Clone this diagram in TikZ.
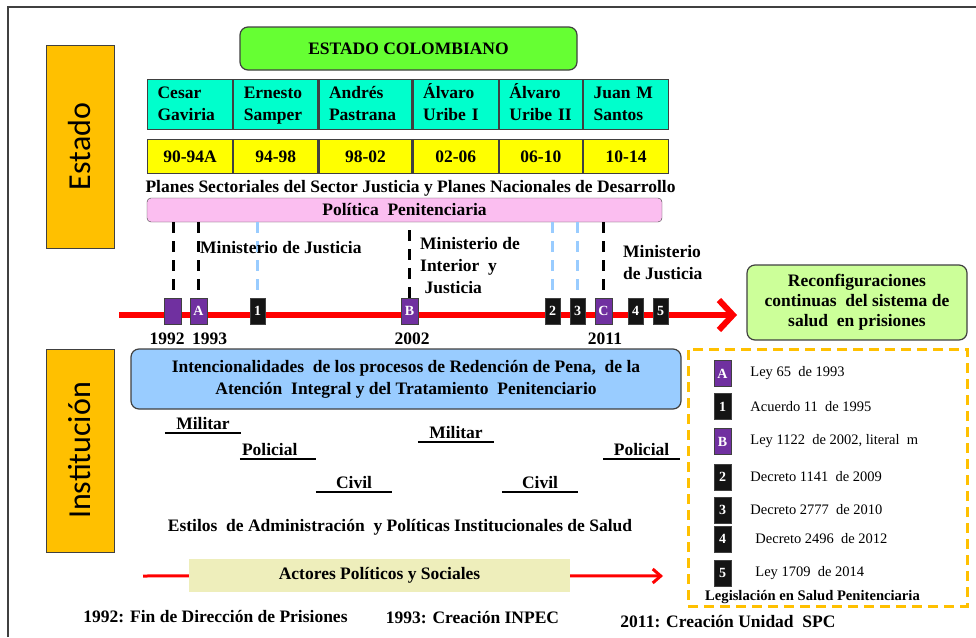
\documentclass[tikz,border=0pt]{standalone}
\usepackage{fontspec}
\setmainfont{Liberation Serif}
\newfontfamily\calibri{Carlito}
\usetikzlibrary{positioning, arrows.meta}

\definecolor{verdeestado}{HTML}{66FF33}
\definecolor{turquesa}{HTML}{00FFCC}
\definecolor{amarillo}{HTML}{FFFF00}
\definecolor{rosa}{HTML}{FBBEF0}
\definecolor{morado}{HTML}{7030A0}
\definecolor{naranja}{HTML}{FFC000}
\definecolor{celeste}{HTML}{99CCFF}
\definecolor{verdeclaro}{HTML}{CCFF99}
\definecolor{arena}{HTML}{EEEEBB}
\definecolor{borde}{HTML}{404040}

\tikzset{
  negrita/.style={font=\bfseries\fontsize{17.5}{22}\selectfont},
  lateral/.style={draw=borde, fill=naranja, rotate=90, minimum width=203pt,
    minimum height=68pt, font=\calibri\fontsize{32}{32}\selectfont},
  celda/.style={draw=borde, line width=1.2pt, fill=turquesa, negrita, align=left,
    text width=#1, inner xsep=10pt, inner ysep=0pt, minimum height=50pt,
    execute at begin node=\strut, execute at end node=\strut},
  periodo/.style={draw=borde, line width=1.2pt, fill=amarillo, negrita,
    minimum width=#1, minimum height=34pt, inner sep=0pt},
  marca/.style={draw=borde, minimum width=17pt, minimum height=26pt, inner sep=0pt,
    text=white, font=\bfseries\fontsize{14}{14}\selectfont},
  morada/.style={marca, fill=morado},
  negra/.style={marca, fill=black!92},
  rayanegra/.style={black, line width=3pt, dash pattern=on 11pt off 8pt},
  rayaazul/.style={celeste, line width=3pt, dash pattern=on 11pt off 8pt},
  subrayado/.style={negrita, inner sep=0pt, text depth=3pt, minimum width=76pt,
    append after command={(\tikzlastnode.south west) edge[line width=1.2pt] (\tikzlastnode.south east)}},
  ley/.style={font=\fontsize{14.5}{14.5}\selectfont, inner sep=0pt},
}

\begin{document}
\begin{tikzpicture}[x=1pt, y=-1pt]
  \useasboundingbox (0,0) rectangle (976,637);
  \draw[borde, line width=2pt] (8,637) -- (8,7) -- (976,7);

  % bloque del estado
  \node[lateral] (estado) at (80,146.5) {Estado};
  \node[draw=borde, line width=1.2pt, fill=verdeestado, rounded corners=8pt,
    minimum width=337pt, minimum height=43pt, negrita] (colombia) at (408.5,48.5) {ESTADO COLOMBIANO};

  \node[celda=65pt, anchor=north west] (gaviria) at (147,79) {Cesar\\Gaviria};
  \node[celda=64pt, right=0pt of gaviria] (samper) {Ernesto\\Samper};
  \node[celda=73pt, right=0pt of samper] (pastrana) {Andrés\\Pastrana};
  \node[celda=65pt, right=0pt of pastrana] (uribeI) {Álvaro\\Uribe I};
  \node[celda=63pt, right=0pt of uribeI] (uribeII) {Álvaro\\Uribe II};
  \node[celda=65pt, right=0pt of uribeII] (santos) {Juan M\\Santos};

  \node[periodo=85pt, below=9pt of gaviria] (p1) {90-94A};
  \node[periodo=84pt, below=9pt of samper] (p2) {94-98};
  \node[periodo=93pt, below=9pt of pastrana] (p3) {98-02};
  \node[periodo=85pt, below=9pt of uribeI] (p4) {02-06};
  \node[periodo=83pt, below=9pt of uribeII] (p5) {06-10};
  \node[periodo=85pt, below=9pt of santos] (p6) {10-14};

  \node[negrita, inner sep=0pt] (planes) at (410.5,188) {Planes Sectoriales del Sector Justicia\ y Planes Nacionales de Desarrollo};
  \node[draw=borde, fill=rosa, rounded corners=4pt, minimum width=515pt, minimum height=24pt,
    inner sep=0pt, negrita] (politica) at (404.5,210) {\raisebox{-4pt}{Política\ \ Penitenciaria}};

  % linea de tiempo
  \coordinate (ini) at (119,315);
  \coordinate (fin) at (737,315);
  \draw[red, line width=6pt, -{Straight Barb[length=14pt, width=30pt]}] (ini) -- (fin);

  \node[morada] (m92) at (173,311) {};
  \node[morada] (mA) at (198.5,311) {A};
  \node[negra, minimum width=15pt] (m1) at (257.5,311) {1};
  \node[morada] (mB) at (409.5,311) {B};
  \node[negra, minimum width=15pt] (m2) at (552.5,311) {2};
  \node[negra, minimum width=15pt] (m3) at (577.5,311) {3};
  \node[morada] (mC) at (603.5,311) {C};
  \node[negra, minimum width=15pt] (m4) at (635.5,311) {4};
  \node[negra, minimum width=15pt] (m5) at (660.5,311) {5};

  \draw[rayanegra] (m92.north |- politica.south) -- (m92.north);
  \draw[rayanegra] (mA.north |- politica.south) -- (mA.north);
  \draw[rayaazul] (m1.north |- politica.south) -- (m1.north);
  \draw[rayanegra] (mB.north |- politica.south) ++(0,8) -- (mB.north);
  \draw[rayaazul] (m2.north |- politica.south) -- (m2.north);
  \draw[rayaazul] (m3.north |- politica.south) -- (m3.north);
  \draw[rayanegra] (mC.north |- politica.south) -- (mC.north);

  \node[negrita, inner sep=0pt] (a1992) at (167,339) {1992};
  \node[negrita, inner sep=0pt] (a1993) at (209.5,339) {1993};
  \node[negrita, inner sep=0pt] (a2002) at (412,339) {2002};
  \node[negrita, inner sep=0pt] (a2011) at (605,339) {2011};

  \node[negrita, inner sep=0pt, anchor=west] (minjus) at (200,248) {Ministerio de Justicia};
  \node[negrita, inner sep=0pt, anchor=north west, align=left] (mininterior) at (420,237)
    {Ministerio de\\Interior\ \ y\\\ Justicia};
  \node[negrita, inner sep=0pt, anchor=north west, align=left] (minjus2) at (623,245)
    {Ministerio\\de Justicia};

  \node[draw=borde, line width=1.2pt, fill=verdeclaro, rounded corners=8pt, minimum width=220pt,
    minimum height=75pt, align=center, font=\bfseries\fontsize{17.5}{20}\selectfont] (reconf) at (857,302.5)
    {Reconfiguraciones\\continuas\ \ del sistema de\\salud\ \ en prisiones};

  % bloque de la institucion
  \node[lateral] (institucion) at (80,450.5) {Institución};
  \node[draw=borde, line width=1.2pt, fill=celeste, rounded corners=8pt, minimum width=550pt,
    minimum height=60pt, align=center, negrita] (intencion) at (406,379)
    {Intencionalidades\ \ de los procesos de Redención de Pena,\ \ de la\\Atención\ \ Integral y del Tratamiento\ \ Penitenciario};

  \node[subrayado, anchor=south] (militar1) at (203,433) {Militar};
  \node[subrayado, anchor=south, align=left, text width=76pt] (policial1) at (278,459) {\hspace{2pt}Policial};
  \node[subrayado, anchor=south] (civil1) at (354,492) {Civil};
  \node[subrayado, anchor=south] (militar2) at (456,442) {Militar};
  \node[subrayado, anchor=south] (civil2) at (540,492) {Civil};
  \node[subrayado, anchor=south] (policial2) at (641.5,459) {Policial};

  \node[negrita, inner sep=0pt] (estilos) at (400,527) {Estilos\ \ de Administración\ \ y Políticas\ Institucionales\ de Salud};

  \coordinate (actIni) at (143,576);
  \coordinate (actFin) at (663,576);
  \node[fill=arena, minimum width=381pt, minimum height=33pt, negrita] (actores) at (379.5,575.5)
    {Actores Políticos y Sociales};
  \draw[red, line width=3pt] (actIni) -- (actores);
  \draw[red, line width=3pt, -{Straight Barb[length=8pt, width=14pt]}] (actores) -- (actFin);

  \node[negrita, inner sep=0pt] (fin92) at (215.5,617) {1992: Fin de Dirección de Prisiones};
  \node[negrita, inner sep=0pt] (inpec) at (472.5,618) {1993: Creación INPEC};
  \node[negrita, inner sep=0pt] (spc) at (728,622) {2011: Creación\ Unidad\ \ SPC};

  % leyenda
  \node[draw=naranja, line width=3pt, dash pattern=on 10pt off 6pt, minimum width=279pt,
    minimum height=257pt] (leyenda) at (827.5,477.5) {};
  \node[morada] (lA) at (722.5,373.5) {A};
  \node[negra] (l1) at (722.5,406.5) {1};
  \node[morada] (lB) at (722.5,441.5) {B};
  \node[negra] (l2) at (722.5,477) {2};
  \node[negra] (l3) at (722.5,510) {3};
  \node[negra] (l4) at (722.5,539) {4};
  \node[negra] (l5) at (722.5,573) {5};
  \node[ley, right=19pt of lA] (tA) {Ley 65~~de 1993};
  \node[ley, right=19pt of l1] (t1) {Acuerdo 11~~de 1995};
  \node[ley, right=19pt of lB] (tB) {Ley 1122~~de 2002,~literal~~m};
  \node[ley, right=19pt of l2] (t2) {Decreto 1141~~de 2009};
  \node[ley, right=19pt of l3] (t3) {Decreto 2777~~de 2010};
  \node[ley, right=24pt of l4] (t4) {Decreto 2496~~de 2012};
  \node[ley, right=24pt of l5] (t5) {Ley 1709~~de 2014};
  \node[inner sep=0pt, font=\bfseries\fontsize{14.6}{14.6}\selectfont] (legis) at (812.5,597)
    {Legislación en Salud Penitenciaria};
\end{tikzpicture}
\end{document}
